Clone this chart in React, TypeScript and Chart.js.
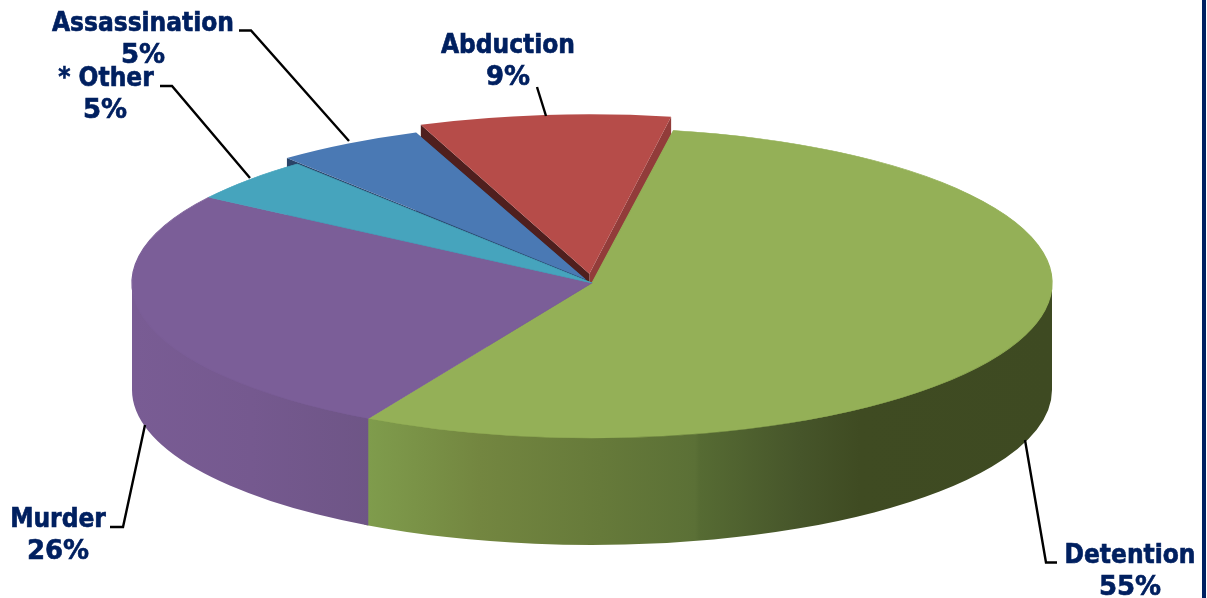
import React, { useEffect, useRef } from "react";
import { Chart, registerables } from "chart.js";

Chart.register(...registerables);

const categories = ["Detention", "Murder", "* Other", "Assassination", "Abduction"];
const values = [55.25, 26.25, 4.6, 5.2, 8.7];
const explode = [0, 0, 0, 28, 64];
const topColors = ["#94b057", "#7b5e98", "#46a4bd", "#4a79b4", "#b64c49"];
const leftFaceColors = ["#94b057", "#7b5e98", "#46a4bd", "#2a4468", "#4f1f1e"];
const rightFaceColors = ["#94b057", "#7b5e98", "#46a4bd", "#35567f", "#923c3a"];

const CX = 592;
const CY = 283;
const RX = 460;
const RY = 155;
const DEPTH = 107;
const NAVY = "#002060";
const FONT = 'bold 26px "DejaVu Sans Condensed", "DejaVu Sans", sans-serif';
const PERCENT_FONT = 'bold 26px "DejaVu Sans", sans-serif';

const labelLayout: Record<string, { x: number; y: number; x2?: number; leader: number[][] }> = {
  Detention: { x: 1130, y: 563, leader: [[1025, 440], [1046, 562.5], [1057, 562.5]] },
  Murder: { x: 58, y: 527, leader: [[145, 425], [123, 527], [110, 527]] },
  "* Other": { x: 106, y: 86, x2: 105, leader: [[160, 86], [172, 86], [250, 178]] },
  Assassination: { x: 143, y: 31, leader: [[239, 30.5], [251, 30.5], [349, 141]] },
  Abduction: { x: 508, y: 53, leader: [[537, 87], [546, 116]] },
};

function geom(chart: any, i: number) {
  const arc = chart.getDatasetMeta(0).data[i];
  const base = arc.outerRadius;
  const sx = RX / base;
  const sy = RY / base;
  const o = explode[i] / 4;
  const span = arc.endAngle - arc.startAngle;
  const mid = (arc.startAngle + arc.endAngle) / 2;
  const fix = 1 - Math.sin(Math.min(Math.PI, span));
  const grow = o * fix;
  const R = base + grow;
  // The library trims an offset arc by this angle on each side
  const beta = Math.max(0.001, span * R - grow / Math.PI) / R;
  const trim = (span - beta) / 2;
  return {
    arc,
    sx,
    sy,
    a0: arc.startAngle + trim,
    a1: arc.endAngle - trim,
    cx: CX + Math.cos(mid) * o * sx,
    cy: CY + Math.sin(mid) * o * sy,
    rx: R * sx,
    ry: R * sy,
  };
}

const pie3d = {
  id: "pie3d",
  beforeDatasetsDraw(chart: any) {
    const ctx = chart.ctx as CanvasRenderingContext2D;
    const meta = chart.getDatasetMeta(0);

    // Cut faces of the pulled-out slices
    [4, 3].forEach((i) => {
      const g = geom(chart, i);
      const faces: [number, string][] = [
        [g.a1, rightFaceColors[i]],
        [g.a0, leftFaceColors[i]],
      ];
      faces.forEach(([a, color]) => {
        const ex = g.cx + Math.cos(a) * g.rx;
        const ey = g.cy + Math.sin(a) * g.ry;
        ctx.beginPath();
        ctx.moveTo(g.cx, g.cy);
        ctx.lineTo(ex, ey);
        ctx.lineTo(ex, ey + DEPTH);
        ctx.lineTo(g.cx, g.cy + DEPTH);
        ctx.closePath();
        ctx.fillStyle = color;
        ctx.fill();
      });
    });

    // Rim of the front half; the top edge tucks under the arcs to avoid a seam
    const wall = (i: number, stops: [number, string][], overlap: number) => {
      const g = geom(chart, i);
      const a0 = Math.max(g.a0, 0);
      const a1 = Math.min(g.a1 + overlap, Math.PI);
      if (a1 <= a0) return;
      const grad = ctx.createLinearGradient(CX - RX, 0, CX + RX, 0);
      stops.forEach(([p, c]) => grad.addColorStop(p, c));
      ctx.beginPath();
      ctx.ellipse(g.cx, g.cy - 2, g.rx, g.ry, 0, a0, a1, false);
      ctx.ellipse(g.cx, g.cy + DEPTH, g.rx, g.ry, 0, a1, a0, true);
      ctx.closePath();
      ctx.fillStyle = grad;
      ctx.fill();
    };
    wall(0, [
      [0.257, "#7f9c4c"],
      [0.378, "#738640"],
      [0.509, "#667a3a"],
      [0.612, "#5b7036"],
      [0.617, "#566b33"],
      [0.726, "#46552a"],
      [0.791, "#3f4b22"],
      [1, "#3e4a22"],
    ], 0.01);
    wall(1, [
      [0, "#795c94"],
      [0.13, "#75598f"],
      [0.26, "#6e5586"],
    ], 0);

    // Squash the library's own arcs into the top ellipse
    const a = meta.data[0];
    const base = a.outerRadius;
    ctx.save();
    ctx.translate(CX, CY);
    ctx.scale(RX / base, RY / base);
    ctx.translate(-a.x, -a.y);
  },
  afterDatasetsDraw(chart: any) {
    const ctx = chart.ctx as CanvasRenderingContext2D;
    ctx.restore();

    ctx.strokeStyle = "#000000";
    ctx.lineWidth = 2.4;
    ctx.lineJoin = "miter";
    categories.forEach((name) => {
      const pts = labelLayout[name].leader;
      ctx.beginPath();
      pts.forEach(([x, y], k) => (k ? ctx.lineTo(x, y) : ctx.moveTo(x, y)));
      ctx.stroke();
    });

    ctx.fillStyle = NAVY;
    ctx.strokeStyle = NAVY;
    ctx.lineWidth = 0.6;
    ctx.textAlign = "center";
    ctx.textBaseline = "alphabetic";
    const put = (s: string, x: number, y: number, font: string) => {
      ctx.font = font;
      ctx.fillText(s, x, y);
      ctx.strokeText(s, x, y);
    };
    categories.forEach((name, i) => {
      const l = labelLayout[name];
      put(name, l.x, l.y, FONT);
      put(`${Math.round(values[i])}%`, l.x2 ?? l.x, l.y + 32, PERCENT_FONT);
    });

    // Right-hand rule of the slide
    ctx.fillStyle = NAVY;
    ctx.fillRect(1202, 0, 4, chart.height);
  },
};

export default function App() {
  const ref = useRef<HTMLCanvasElement>(null);
  useEffect(() => {
    const chart = new Chart(ref.current!, {
      type: "pie",
      data: {
        labels: categories,
        datasets: [
          {
            data: values,
            backgroundColor: topColors,
            borderColor: topColors,
            borderWidth: [0.7, 0.7, 0.7, 0, 0],
            offset: explode,
            clip: false,
          } as any,
        ],
      },
      options: {
        responsive: false,
        animation: false,
        rotation: 10.2,
        layout: { padding: 0, autoPadding: false },
        plugins: { legend: { display: false }, tooltip: { enabled: false } },
      } as any,
      plugins: [pie3d],
    });
    return () => chart.destroy();
  }, []);
  return (
    <canvas
      ref={ref}
      width={1207}
      height={598}
      style={{ position: "fixed", left: 0, top: 0, display: "block", background: "#ffffff" }}
    />
  );
}
